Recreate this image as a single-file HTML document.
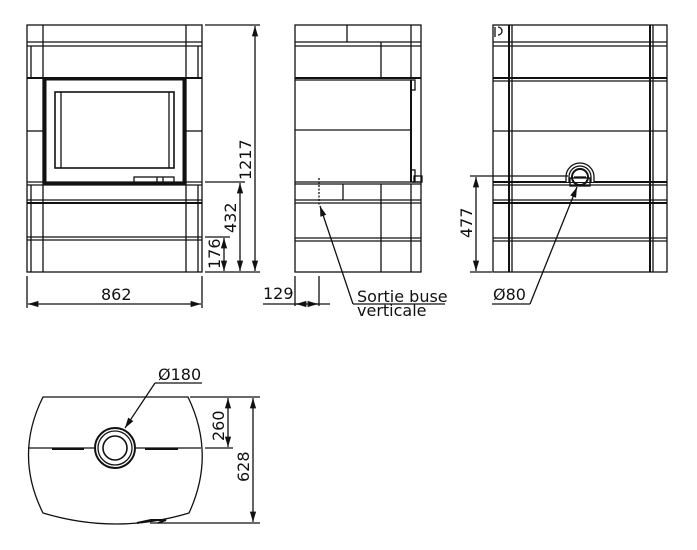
<!DOCTYPE html>
<html><head><meta charset="utf-8"><style>
html,body{margin:0;padding:0;background:#fff;width:697px;height:550px;overflow:hidden}
svg{display:block}
text{font-family:"DejaVu Sans","Liberation Sans",sans-serif;font-size:16px;fill:#111}
</style></head><body>
<svg width="697" height="550" viewBox="0 0 697 550" xmlns="http://www.w3.org/2000/svg">
<defs>
<marker id="a" viewBox="0 0 10 10" refX="10" refY="5" markerWidth="8" markerHeight="8" orient="auto-start-reverse"><path d="M0,2 L10,5 L0,8 z" fill="#111"/></marker>
</defs>
<g stroke="#111" fill="none" stroke-width="1.3">
<!-- FRONT VIEW -->
<rect x="27" y="25" width="175" height="247"/>
<line x1="27" y1="42" x2="202" y2="42"/><line x1="27" y1="46" x2="202" y2="46"/>
<line x1="27" y1="78" x2="202" y2="78" stroke-width="2"/>
<line x1="27" y1="182" x2="202" y2="182"/>
<line x1="27" y1="185" x2="202" y2="185"/>
<line x1="27" y1="200" x2="202" y2="200"/><line x1="27" y1="203" x2="202" y2="203" stroke-width="2"/>
<line x1="27" y1="237" x2="202" y2="237"/><line x1="27" y1="240" x2="202" y2="240"/>
<line x1="43" y1="25" x2="43" y2="272"/><line x1="186" y1="25" x2="186" y2="272"/>
<line x1="31" y1="46" x2="31" y2="78"/><line x1="198" y1="46" x2="198" y2="78"/>
<line x1="31" y1="185" x2="31" y2="272"/><line x1="198" y1="185" x2="198" y2="272"/>
<line x1="27" y1="131" x2="43" y2="131"/><line x1="186" y1="131" x2="202" y2="131"/>
<rect x="45" y="79" width="139" height="104" stroke-width="3"/>
<rect x="55" y="92" width="119" height="76" stroke-width="1.6"/>
<line x1="61" y1="92" x2="61" y2="168"/><line x1="169" y1="92" x2="169" y2="168"/>
<rect x="134" y="177" width="40" height="6"/><line x1="157" y1="177" x2="157" y2="183"/><line x1="163" y1="177" x2="163" y2="183"/>
<!-- front dims -->
<line x1="205" y1="25" x2="260" y2="25"/><line x1="205" y1="182" x2="245" y2="182"/><line x1="205" y1="237" x2="230" y2="237"/><line x1="205" y1="272" x2="260" y2="272"/>
<line x1="255" y1="26" x2="255" y2="271" marker-start="url(#a)" marker-end="url(#a)"/>
<line x1="240" y1="183" x2="240" y2="271" marker-start="url(#a)" marker-end="url(#a)"/>
<line x1="224" y1="238" x2="224" y2="271" marker-start="url(#a)" marker-end="url(#a)"/>
<line x1="27" y1="276" x2="27" y2="308"/><line x1="202" y1="276" x2="202" y2="308"/>
<line x1="28" y1="304" x2="201" y2="304" marker-start="url(#a)" marker-end="url(#a)"/>

<!-- SIDE VIEW -->
<rect x="295" y="25" width="126" height="247"/>
<line x1="295" y1="42" x2="421" y2="42"/><line x1="295" y1="46" x2="421" y2="46"/>
<line x1="295" y1="78" x2="421" y2="78" stroke-width="2"/>
<line x1="295" y1="80" x2="411" y2="80"/>
<line x1="295" y1="130" x2="411" y2="130"/>
<line x1="295" y1="182" x2="421" y2="182"/><line x1="295" y1="184" x2="421" y2="184"/>
<line x1="295" y1="200" x2="421" y2="200"/><line x1="295" y1="203" x2="421" y2="203"/>
<line x1="295" y1="238" x2="421" y2="238"/><line x1="295" y1="241" x2="421" y2="241"/>
<line x1="347" y1="25" x2="347" y2="42"/><line x1="381" y1="42" x2="381" y2="78"/>
<line x1="411" y1="25" x2="411" y2="78"/><line x1="411" y1="184" x2="411" y2="272"/>
<line x1="343" y1="184" x2="343" y2="200"/><line x1="381" y1="184" x2="381" y2="272"/>
<line x1="411" y1="80" x2="411" y2="182" stroke-width="2"/>
<rect x="411" y="80" width="4" height="10"/><rect x="411" y="170" width="4" height="12"/><rect x="414" y="176" width="8" height="6"/>
<line x1="319" y1="178" x2="319" y2="206" stroke-dasharray="2,1.5"/>
<line x1="353" y1="304" x2="320" y2="206" marker-end="url(#a)"/>
<line x1="353" y1="304" x2="445" y2="304"/>
<line x1="295" y1="276" x2="295" y2="306"/><line x1="319" y1="276" x2="319" y2="306"/>
<line x1="263" y1="304" x2="330" y2="304"/>
<line x1="300" y1="304" x2="296" y2="304" marker-end="url(#a)"/><line x1="314" y1="304" x2="318" y2="304" marker-end="url(#a)"/>

<!-- RIGHT VIEW -->
<rect x="493" y="25" width="174" height="247"/>
<line x1="493" y1="42" x2="667" y2="42"/><line x1="493" y1="46" x2="667" y2="46"/>
<line x1="493" y1="78" x2="667" y2="78" stroke-width="2"/><line x1="493" y1="81" x2="667" y2="81"/>
<line x1="493" y1="131" x2="667" y2="131"/>
<line x1="493" y1="182" x2="667" y2="182" stroke-width="2"/><line x1="493" y1="185" x2="667" y2="185"/>
<line x1="493" y1="200" x2="667" y2="200"/><line x1="493" y1="203" x2="667" y2="203" stroke-width="2"/>
<line x1="493" y1="238" x2="667" y2="238"/><line x1="493" y1="241" x2="667" y2="241"/>
<line x1="509" y1="25" x2="509" y2="272" stroke-width="2"/><line x1="512" y1="25" x2="512" y2="272"/>
<line x1="650" y1="25" x2="650" y2="272" stroke-width="2"/><line x1="653" y1="25" x2="653" y2="272"/>
<path d="M495,27 v10 M498,27 a3,3 0 0 1 0,8"/>
<path d="M566,182 v-5 a14,14 0 0 1 28,0 v5" fill="#fff"/>
<path d="M569,182 v-5 a11,11 0 0 1 22,0 v5"/>
<rect x="570" y="178" width="20" height="8"/>
<circle cx="580" cy="177" r="8" stroke-width="2"/>
<line x1="574" y1="177" x2="586" y2="177"/>
<line x1="470" y1="176" x2="568" y2="176"/><line x1="470" y1="272" x2="492" y2="272"/>
<line x1="476" y1="177" x2="476" y2="271" marker-start="url(#a)" marker-end="url(#a)"/>
<line x1="530" y1="304" x2="577" y2="187" marker-end="url(#a)"/>
<line x1="492" y1="304" x2="530" y2="304"/>

<!-- TOP VIEW -->
<path d="M43,397 L188,397 Q216,455 189,513 Q116,535 43,513 Q14,455 43,397 Z"/>
<line x1="28" y1="448" x2="95" y2="448"/><line x1="135" y1="448" x2="201" y2="448"/>
<line x1="52" y1="449" x2="84" y2="449" stroke-width="2"/><line x1="145" y1="449" x2="178" y2="449" stroke-width="2"/>
<path d="M137,523 l14,-3 l15,0 l-8,3" stroke-width="2"/>
<circle cx="115" cy="448" r="20" stroke-width="2"/>
<circle cx="115" cy="448" r="17"/>
<circle cx="115" cy="448" r="12" stroke-width="1.6"/>
<line x1="190" y1="397" x2="260" y2="397"/><line x1="205" y1="448" x2="233" y2="448"/><line x1="150" y1="523" x2="260" y2="523"/>
<line x1="228" y1="398" x2="228" y2="447" marker-start="url(#a)" marker-end="url(#a)"/>
<line x1="253" y1="398" x2="253" y2="522" marker-start="url(#a)" marker-end="url(#a)"/>
<line x1="155" y1="383" x2="125" y2="428" marker-end="url(#a)"/>
<line x1="155" y1="383" x2="202" y2="383"/>
</g>
<g>
<text x="101" y="300">862</text>
<text transform="translate(251,180) rotate(-90)">1217</text>
<text transform="translate(236,233) rotate(-90)">432</text>
<text transform="translate(220,269) rotate(-90)">176</text>
<text x="263" y="299">129</text>
<text x="357" y="302" font-size="14">Sortie buse</text>
<text x="357" y="316" font-size="14">verticale</text>
<text transform="translate(472,238) rotate(-90)">477</text>
<text x="493" y="300">Ø80</text>
<text x="158" y="380">Ø180</text>
<text transform="translate(224,441) rotate(-90)">260</text>
<text transform="translate(249,482) rotate(-90)">628</text>
</g>
</svg>
</body></html>
